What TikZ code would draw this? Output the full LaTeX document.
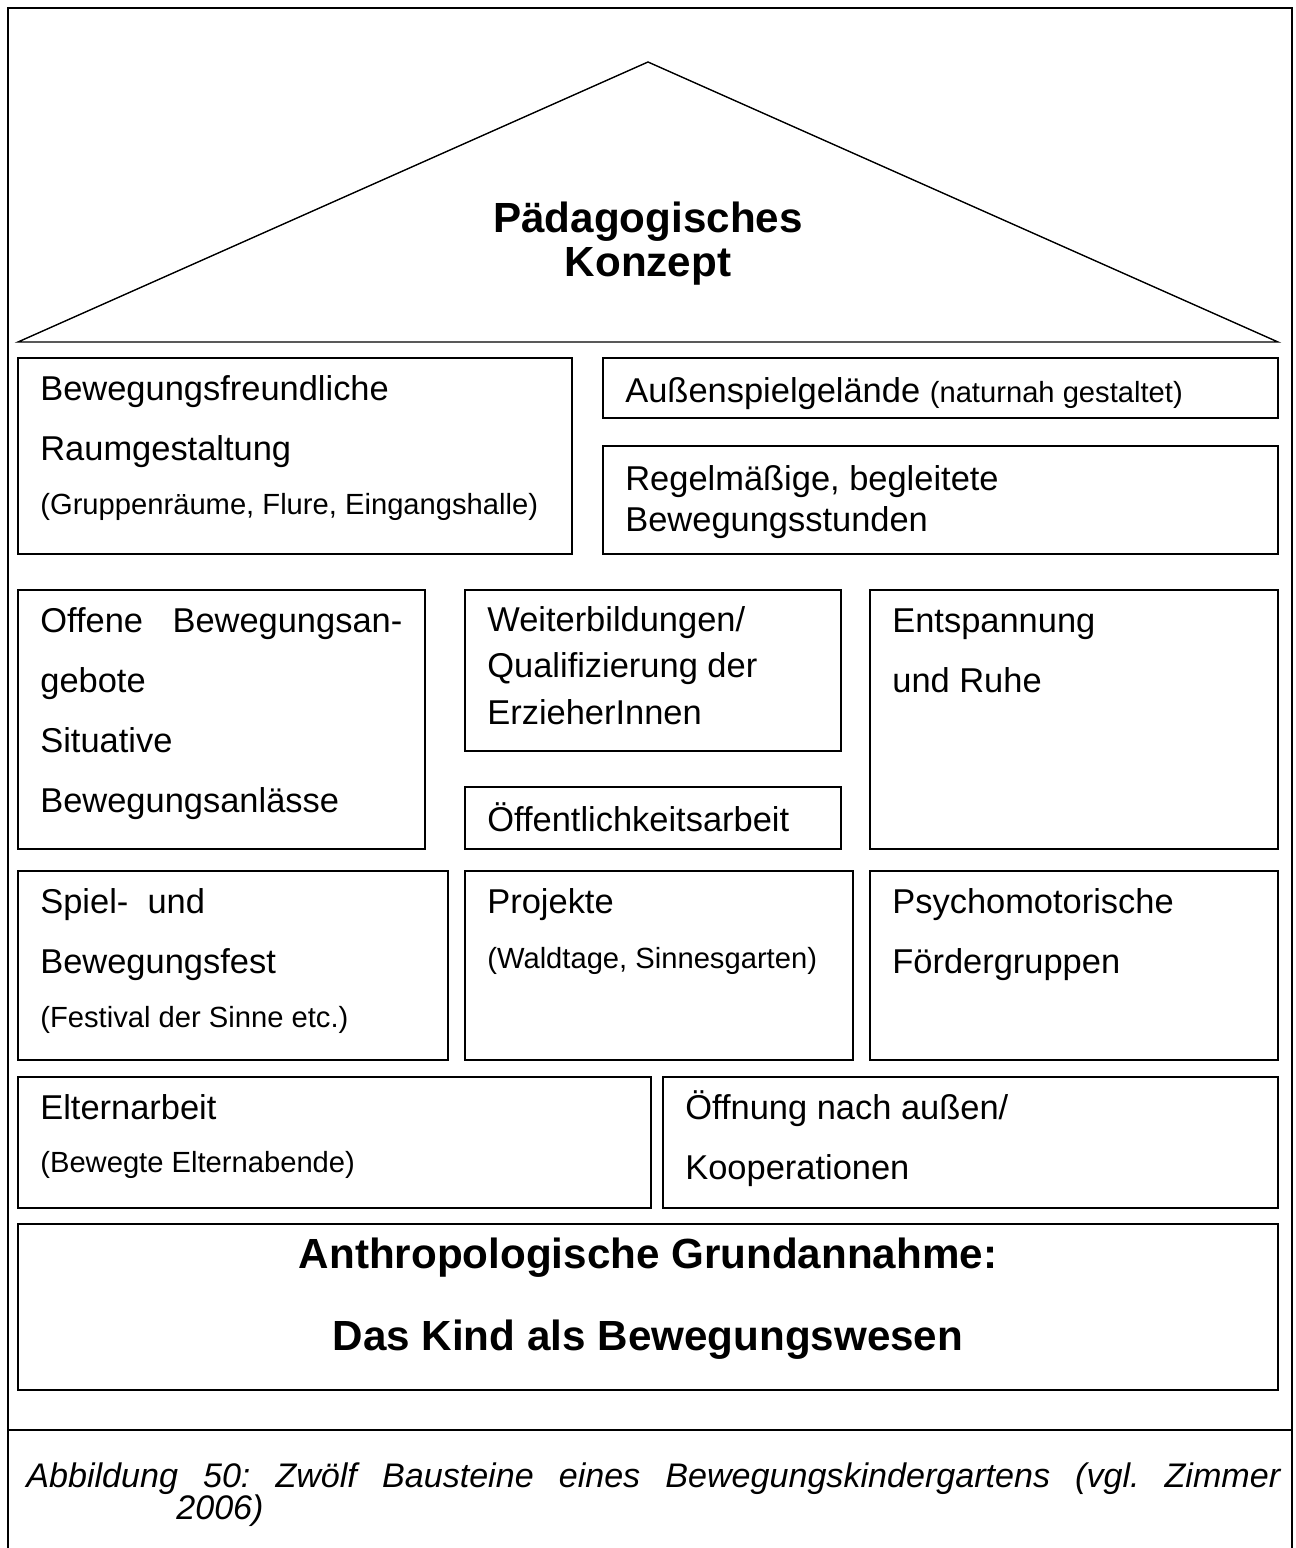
\documentclass[tikz,border=0pt]{standalone}
\usepackage{fontspec}
\setmainfont{Liberation Sans}
\usetikzlibrary{fit}
\frenchspacing

\begin{document}
\begin{tikzpicture}[
  x=0.2mm, y=-0.2mm,
  frame/.style={line width=1.6pt},
  roof/.style={line width=0.8pt, line join=miter},
  box/.style={draw, line width=0.9pt, inner sep=0pt},
  txt/.style={anchor=base west, align=left, inner sep=0pt, font=\fontsize{19.6}{#1}\selectfont},
  txt/.default=34.1,
  sml/.style={anchor=base west, inner sep=0pt, font=\fontsize{16.6}{20}\selectfont},
  head/.style={align=center, inner sep=0pt, font=\fontsize{24}{#1}\selectfont\bfseries},
  captxt/.style={anchor=base west, text width=25.08cm, align=justify, inner sep=0pt,
              font={\fontsize{19.4}{18.2}\selectfont\itshape\setlength{\lineskiplimit}{-20pt}}},
]
\useasboundingbox (0,0) rectangle (1295,1548);

% ===== outer frame and caption rule =====
\draw[frame] (8,1548) -- (8,8) -- (1292,8) -- (1292,1548);
\draw[frame] (8,1430) -- (1292,1430);

% ===== roof =====
\coordinate (apex)  at (648,62);
\coordinate (eaveL) at (18,342);
\coordinate (eaveR) at (1278,342);
\draw[roof] (eaveL) -- (apex) -- (eaveR) -- cycle;
\node[head=25] (konzept) at (648,244) {Pädagogisches\\Konzept};

% ===== first floor (multi-line texts sit on their last baseline) =====
\node[box, fit={(18,358) (572,554)}]   (raum) {};
\node[box, fit={(603,358) (1278,418)}] (aussen) {};
\node[box, fit={(603,446) (1278,554)}] (stunden) {};
\node[txt] (raumT) at (40,460) {Bewegungsfreundliche\\Raumgestaltung};
\node[sml] (raumS) at (40,514) {(Gruppenräume, Flure, Eingangshalle)};
\node[txt] (aussenT) at (625,402)
  {Außenspielgelände {\fontsize{16.6}{20}\selectfont(naturnah gestaltet)}};
\node[txt=23.3] (stundenT) at (625,531) {Regelmäßige, begleitete\\Bewegungsstunden};

% ===== second floor =====
\node[box, fit={(18,590) (425,849)}]   (offen) {};
\node[box, fit={(465,590) (841,751)}]  (weiter) {};
\node[box, fit={(465,787) (841,849)}]  (oeffentl) {};
\node[box, fit={(870,590) (1278,849)}] (ruhe) {};
\node[txt] (offenT) at (40,812)
  {\makebox[7.24cm][s]{Offene Bewegungsan-}\\gebote\\Situative\\Bewegungsanlässe};
\node[txt=26.2] (weiterT) at (487,724) {Weiterbildungen/\\Qualifizierung der\\ErzieherInnen};
\node[txt] (oeffentlT) at (487,831) {Öffentlichkeitsarbeit};
\node[txt] (ruheT) at (892,692) {Entspannung\\und Ruhe};

% ===== third floor =====
\node[box, fit={(18,871) (448,1060)}]  (fest) {};
\node[box, fit={(465,871) (853,1060)}] (projekt) {};
\node[box, fit={(870,871) (1278,1060)}] (psycho) {};
\node[txt] (festT) at (40,973) {Spiel-\ \ und\\Bewegungsfest};
\node[sml] (festS) at (40,1027) {(Festival der Sinne etc.)};
\node[txt] (projektT) at (487,913) {Projekte};
\node[sml] (projektS) at (487,968) {(Waldtage, Sinnesgarten)};
\node[txt] (psychoT) at (892,973) {Psychomotorische\\Fördergruppen};

% ===== fourth floor =====
\node[box, fit={(18,1077) (651,1208)}]  (eltern) {};
\node[box, fit={(663,1077) (1278,1208)}] (koop) {};
\node[txt] (elternT) at (40,1119) {Elternarbeit};
\node[sml] (elternS) at (40,1172) {(Bewegte Elternabende)};
\node[txt] (koopT) at (685,1179) {Öffnung nach außen/\\Kooperationen};

% ===== foundation =====
\node[box, fit={(18,1224) (1278,1390)}] (basis) {};
\node[head=46.7] (basisT) at (648,1299) {Anthropologische Grundannahme:\\Das Kind als Bewegungswesen};

% ===== caption =====
\node[captxt] (caption) at (26,1487)
  {Abbildung 50: Zwölf Bausteine eines Bewegungskindergartens (vgl. Zimmer\linebreak\hspace*{3cm}2006)};

\end{tikzpicture}
\end{document}
